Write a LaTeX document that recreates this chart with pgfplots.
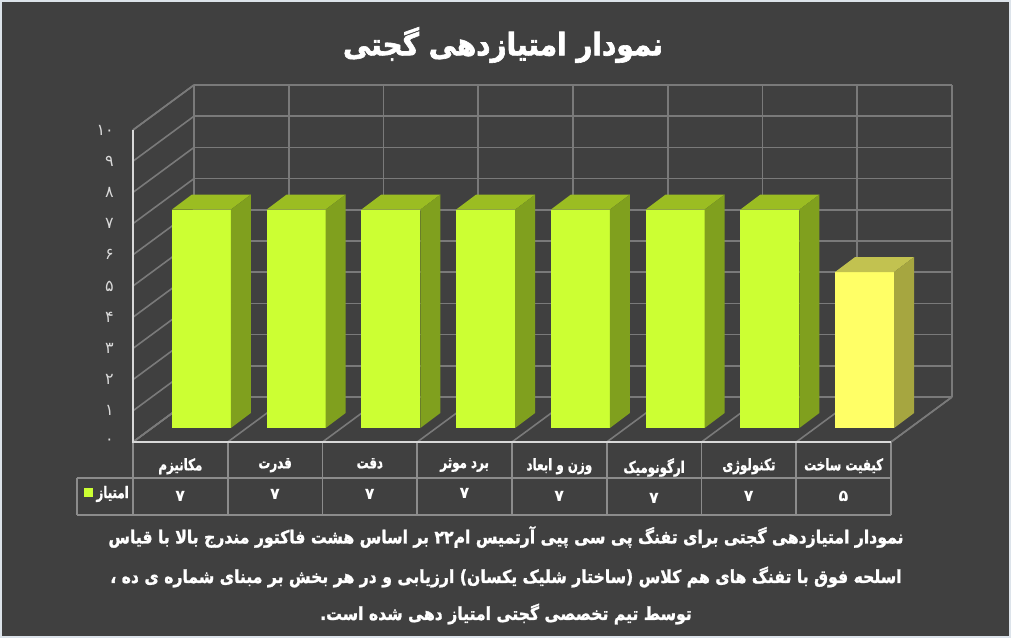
\documentclass[border=0pt]{standalone}
\usepackage{graphicx}
\usepackage{pgfplots}
\pgfplotsset{compat=1.18}
\usepackage{pgfplotstable}
\usepackage{fontspec}
\newfontfamily\fa[Script=Arabic]{DejaVu Sans}
\newfontfamily\facond[Script=Arabic, FakeStretch=0.74, BoldFeatures={FakeBold=1.2}]{DejaVu Sans}
\newfontfamily\facap[Script=Arabic, FakeStretch=0.87, BoldFeatures={FakeBold=1.4}]{DejaVu Sans}
\newfontfamily\fatitle[Script=Arabic, FakeStretch=0.9, BoldFeatures={FakeBold=2}]{DejaVu Sans}
\TeXXeTstate=1
\pgfdeclarelayer{background}
\pgfsetlayers{background,main}
\definecolor{bgc}{HTML}{404040}
\definecolor{bordc}{HTML}{DCE3EA}
\definecolor{gridc}{HTML}{7A7A7A}
\definecolor{tabc}{HTML}{8C8C8C}
\definecolor{frontc}{HTML}{D9D9D9}
\definecolor{gfront}{HTML}{CCFF33}
\definecolor{gtop}{HTML}{9BBD22}
\definecolor{gside}{HTML}{80A01E}
\definecolor{yfront}{HTML}{FFFF66}
\definecolor{ytop}{HTML}{C2C250}
\definecolor{yside}{HTML}{A6A640}

\newcommand\cubemark[3]{%
  \pgfmathsetlengthmacro\barh{31.2pt*\val}%
  \pgfpathrectanglecorners{\pgfpoint{-27.5pt}{-\barh}}{\pgfpoint{31.5pt}{0pt}}%
  \pgfsetfillcolor{#1}\pgfusepath{fill}%
  \pgfpathmoveto{\pgfpoint{-27.5pt}{0pt}}%
  \pgfpathlineto{\pgfpoint{31.5pt}{0pt}}%
  \pgfpathlineto{\pgfpoint{51.5pt}{15pt}}%
  \pgfpathlineto{\pgfpoint{-7.5pt}{15pt}}%
  \pgfpathclose
  \pgfsetfillcolor{#2}\pgfusepath{fill}%
  \pgfpathmoveto{\pgfpoint{31.5pt}{0pt}}%
  \pgfpathlineto{\pgfpoint{51.5pt}{15pt}}%
  \pgfpathlineto{\pgfpoint{51.5pt}{15pt-\barh}}%
  \pgfpathlineto{\pgfpoint{31.5pt}{-\barh}}%
  \pgfpathclose
  \pgfsetfillcolor{#3}\pgfusepath{fill}%
}
\pgfdeclareplotmark{cubG}{\cubemark{gfront}{gtop}{gside}}
\pgfdeclareplotmark{cubY}{\cubemark{yfront}{ytop}{yside}}

\pgfplotstableread{
i d v
0 0.311 7
1 0.311 7
2 0.311 7
3 0.311 7
4 0.311 7
5 0.311 7
6 0.311 7
}\datG
\pgfplotstableread{
i d v
7 0.311 5
}\datY

\begin{document}
\begin{tikzpicture}
\begin{axis}[
  x={(94.75pt,0pt)}, y={(61pt,45pt)}, z={(0pt,31.2pt)},
  xmin=-0.5, xmax=7.5, ymin=0, ymax=1, zmin=0, zmax=10,
  xtick={-0.5,0.5,1.5,2.5,3.5,4.5,5.5,6.5,7.5}, xticklabels={},
  ytick=\empty,
  ztick={0,1,2,3,4,5,6,7,8,9,10},
  zticklabels={۰,۱,۲,۳,۴,۵,۶,۷,۸,۹,۱۰},
  z tick label style={font=\fa\fontsize{16}{16}\selectfont, text=frontc, anchor=east, inner sep=0pt, xshift=-19pt},
  grid=major,
  major grid style={draw=gridc, line width=1.6pt},
  axis line style={draw=gridc, line width=1.6pt},
  major tick length=0pt,
  clip=false,
  extra x ticks={0,1,2,3,4,5,6,7},
  extra x tick labels={
    {\beginR مکانیزم\endR\\[13pt]{\fa\bfseries\fontsize{16}{16}\selectfont ۷}},
    {\beginR قدرت\endR\\[13pt]{\fa\bfseries\fontsize{16}{16}\selectfont ۷}},
    {\beginR دقت\endR\\[13pt]{\fa\bfseries\fontsize{16}{16}\selectfont ۷}},
    {\beginR برد موثر\endR\\[13pt]{\fa\bfseries\fontsize{16}{16}\selectfont ۷}},
    {\beginR وزن و ابعاد\endR\\[13pt]{\fa\bfseries\fontsize{16}{16}\selectfont ۷}},
    {\beginR ارگونومیک\endR\\[13pt]{\fa\bfseries\fontsize{16}{16}\selectfont ۷}},
    {\beginR تکنولوژی\endR\\[13pt]{\fa\bfseries\fontsize{16}{16}\selectfont ۷}},
    {\beginR کیفیت ساخت\endR\\[13pt]{\fa\bfseries\fontsize{16}{16}\selectfont ۵}}},
  extra x tick style={grid=none, major tick length=0pt,
    tick label style={font=\facond\bfseries\fontsize{16}{18}\selectfont, text=white, align=center, anchor=north, inner sep=0pt, yshift=-16pt}},
]
\addplot3[scatter, only marks, mark=cubG,
  visualization depends on={\thisrow{v} \as \val},
  scatter/@pre marker code/.code={}, scatter/@post marker code/.code={}]
  table[x=i, y=d, z=v] {\datG};
\addplot3[scatter, only marks, mark=cubY,
  visualization depends on={\thisrow{v} \as \val},
  scatter/@pre marker code/.code={}, scatter/@post marker code/.code={}]
  table[x=i, y=d, z=v] {\datY};
\coordinate (O) at (axis cs:-0.5,0,0);
\end{axis}
\begin{scope}[shift={(O)}, xshift=-133pt, yshift=442pt, x=1pt, y=-1pt]
  \begin{pgfonlayer}{background}
    \fill[bordc] (0,0) rectangle (1011,638);
    \fill[bgc] (2,2) rectangle (1009,636);
  \end{pgfonlayer}
  % table
  \draw[tabc, line width=1.6pt] (77,478) -- (891,478) (77,515) -- (891,515) (77,478) -- (77,515);
  \foreach \k in {0,...,8} \draw[tabc, line width=1.6pt] (133+94.75*\k,442) -- (133+94.75*\k,515);
  % front edges
  \draw[frontc, line width=1.6pt] (133,130) -- (133,442) -- (891,442);
  % legend key
  \fill[gfront] (84,488) rectangle (93,497);
  \node[anchor=east, text=white, font=\facond\bfseries\fontsize{16}{16}\selectfont, inner sep=0pt] at (129,494) {\beginR امتیاز\endR};
  % title
  \node[text=white, font=\fatitle\bfseries\fontsize{31}{33}\selectfont] at (503,45) {\beginR نمودار امتیازدهی گجتی\endR};
  % caption
  \node[text=white, font=\facap\bfseries\fontsize{18}{18}\selectfont] at (506,537) {\beginR نمودار امتیازدهی گجتی برای تفنگ پی سی پیی آرتمیس ام۲۲ بر اساس هشت فاکتور مندرج بالا با قیاس\endR};
  \node[text=white, font=\facap\bfseries\fontsize{18}{18}\selectfont] at (506,577) {\beginR اسلحه فوق با تفنگ های هم کلاس (ساختار شلیک یکسان) ارزیابی و در هر بخش بر مبنای شماره ی ده ،\endR};
  \node[text=white, font=\facap\bfseries\fontsize{18}{18}\selectfont] at (506,614) {\beginR توسط تیم تخصصی گجتی امتیاز دهی شده است.\endR};
  \pgfresetboundingbox
  \useasboundingbox (0,0) rectangle (1011,638);
\end{scope}
\end{tikzpicture}
\end{document}
